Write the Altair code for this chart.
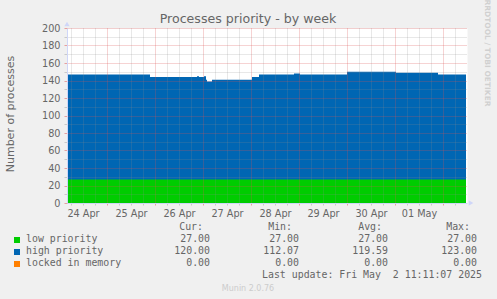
import altair as alt
import pandas as pd

# ---------------- data ----------------
step_times = [
    "2025-04-24T04:00:00", "2025-04-25T21:30:00", "2025-04-26T21:00:00",
    "2025-04-26T22:00:00", "2025-04-27T00:30:00", "2025-04-27T01:30:00",
    "2025-04-27T02:00:00", "2025-04-27T04:30:00", "2025-04-28T00:30:00",
    "2025-04-28T04:00:00", "2025-04-28T21:30:00", "2025-04-29T00:30:00",
    "2025-04-30T00:00:00", "2025-05-01T00:30:00", "2025-05-01T21:30:00",
    "2025-05-02T11:30:00",
]
low_values = [27, 27, 27, 27, 27, 27, 27, 27, 27, 27, 27, 27, 27, 27, 27, 27]
high_values = [120, 117, 118, 117, 118, 114, 112, 114, 117, 120, 121, 120, 123, 122, 120, 120]
locked_values = [0, 0, 0, 0, 0, 0, 0, 0, 0, 0, 0, 0, 0, 0, 0, 0]

series_names = ["low priority", "high priority", "locked in memory"]
series_colors = ["#00CC00", "#0066B3", "#FF8000"]
cur_values = [27.00, 120.00, 0.00]
min_values = [27.00, 112.07, 0.00]
avg_values = [27.00, 119.59, 0.00]
max_values = [27.00, 123.00, 0.00]
stat_headers = ["Cur:", "Min:", "Avg:", "Max:"]

title_text = "Processes priority - by week"
y_title = "Number of processes"
last_update = "Last update: Fri May\u00a0\u00a02 11:11:07 2025"
munin_text = "Munin 2.0.76"
rrd_text = "RRDTOOL / TOBI OETIKER"

# ---------------- layout ----------------
X0, Y0 = 67, 28          # plot origin in page pixels
W, H = 400, 175
TXT = "#666666"
MONO = "DejaVu Sans Mono"
SANS = "DejaVu Sans"

df = pd.DataFrame({"time": step_times, "low": low_values,
                   "high": high_values, "locked": locked_values})

tick_values = [
    alt.DateTime(year=t.year, month=t.month, date=t.day, hours=t.hour)
    for t in pd.date_range("2025-04-24 06:00", "2025-05-02 06:00", freq="6h")
]

major_red = "rgba(222,79,79,0.5)"
minor_gray = "rgba(143,143,143,0.4)"
axis_blue = "#CFD6F8"

x_axis = alt.Axis(
    values=tick_values,
    labelExpr="hours(datum.value) == 12 ? timeFormat(datum.value, '%d %b') : ''",
    grid=True,
    gridColor={"condition": {"test": "hours(datum.value) == 0", "value": major_red},
               "value": minor_gray},
    gridDash=[1, 1],
    tickColor={"condition": {"test": "hours(datum.value) == 0", "value": major_red},
               "value": minor_gray},
    tickSize=2,
    domainColor=axis_blue,
    labelFont=SANS, labelFontSize=9.7, labelColor=TXT, labelPadding=3,
    labelOverlap=False, labelFlush=False, labelBound=False,
    title=None, zindex=1,
)

y_axis = alt.Axis(
    values=list(range(0, 201, 10)),
    labelExpr="datum.value % 20 == 0 ? datum.label : ''",
    labelOverlap=False,
    grid=True,
    gridColor={"condition": {"test": "datum.value % 20 == 0", "value": major_red},
               "value": minor_gray},
    gridDash=[1, 1],
    tickColor={"condition": {"test": "datum.value % 20 == 0", "value": major_red},
               "value": minor_gray},
    tickSize=3,
    domainColor=axis_blue,
    labelFont=SANS, labelFontSize=9.7, labelColor=TXT, labelPadding=4,
    title=None, zindex=1,
)

x_scale = alt.Scale(domain=[alt.DateTime(year=2025, month=4, date=24, hours=4),
                            alt.DateTime(year=2025, month=5, date=2, hours=12)])
y_scale = alt.Scale(domain=[0, 200], nice=False)

# stack low + high (+ locked) explicitly
stacked = alt.Chart(df).transform_calculate(
    total="datum.low + datum.high + datum.locked"
)

blue = stacked.mark_area(interpolate="step-after", color=series_colors[1]).encode(
    x=alt.X("time:T", scale=x_scale, axis=x_axis),
    y=alt.Y("total:Q", scale=y_scale, axis=y_axis),
)

green = stacked.mark_area(interpolate="step-after", color=series_colors[0]).encode(
    x=alt.X("time:T", scale=x_scale, axis=x_axis),
    y=alt.Y("low:Q", scale=y_scale, axis=y_axis),
)


def txt(s, x, y, align="left", size=9.9, color=TXT, font=MONO, angle=0, weight="normal"):
    return alt.Chart(pd.DataFrame({"t": [s]})).mark_text(
        align=align, baseline="middle", font=font, fontSize=size, color=color,
        angle=angle, fontWeight=weight
    ).encode(text="t:N", x=alt.value(x - X0), y=alt.value(y - Y0))


layers = [blue, green]

# title, axis title, side text
layers.append(txt(title_text, 248, 19, align="center", size=12.6, font=SANS))
layers.append(txt(y_title, 11, 114, align="center", size=11, font=SANS, angle=270))
layers.append(txt(rrd_text, 487, 53, align="center", size=7.5, font=SANS,
                  color="#d0d0d0", angle=90, weight="bold"))

# axis arrows
layers.append(alt.Chart(pd.DataFrame({"a": [0]})).mark_point(
    shape="triangle-up", filled=True, size=28, color=axis_blue, opacity=1
).encode(x=alt.value(0), y=alt.value(-4)))
layers.append(alt.Chart(pd.DataFrame({"a": [0]})).mark_point(
    shape="triangle-right", filled=True, size=28, color=axis_blue, opacity=1
).encode(x=alt.value(W + 4), y=alt.value(H)))

# legend headers
header_x = [203, 292, 382, 470]
value_x = [210, 299, 388, 477]
for h, hx in zip(stat_headers, header_x):
    layers.append(txt(h, hx, 227, align="right"))

row_y = [239, 251, 263]
for i, name in enumerate(series_names):
    layers.append(alt.Chart(pd.DataFrame({"a": [0]})).mark_square(
        size=36, color=series_colors[i], opacity=1
    ).encode(x=alt.value(17 - X0), y=alt.value(row_y[i] + 1 - Y0)))
    layers.append(txt(name, 26, row_y[i]))
    for vals, vx in zip([cur_values, min_values, avg_values, max_values], value_x):
        layers.append(txt(f"{vals[i]:.2f}", vx, row_y[i], align="right"))

layers.append(txt(last_update, 482, 275, align="right"))
layers.append(txt(munin_text, 248, 289, align="center", size=8, font=SANS, color="#cccccc"))

chart = alt.layer(*layers).properties(
    width=W, height=H,
    padding={"left": X0, "top": Y0, "right": 497 - X0 - W, "bottom": 299 - Y0 - H},
    autosize=alt.AutoSizeParams(type="none"),
    background="#F0F0F0",
).configure_view(fill="white", stroke="transparent")

chart.save("out.html", embed_options={"renderer": "svg", "actions": False})
